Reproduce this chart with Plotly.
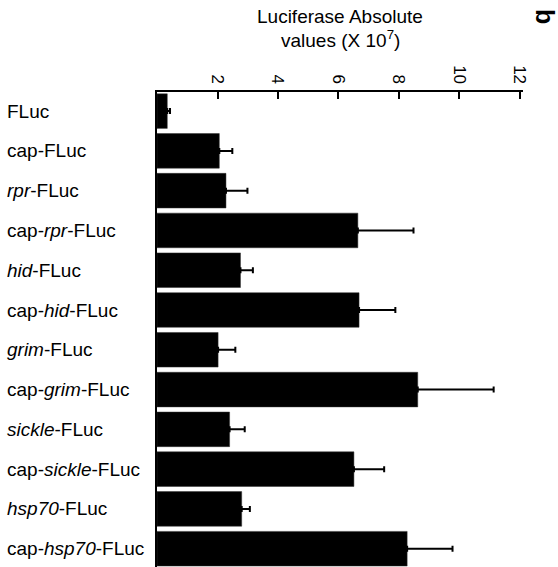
import plotly.graph_objects as go

constructs = ["FLuc", "cap-FLuc", "<i>rpr</i>-FLuc", "cap-<i>rpr</i>-FLuc",
              "<i>hid</i>-FLuc", "cap-<i>hid</i>-FLuc", "<i>grim</i>-FLuc",
              "cap-<i>grim</i>-FLuc", "<i>sickle</i>-FLuc", "cap-<i>sickle</i>-FLuc",
              "<i>hsp70</i>-FLuc", "cap-<i>hsp70</i>-FLuc"]
values = [0.34, 2.06, 2.28, 6.64, 2.76, 6.68, 2.02, 8.62, 2.40, 6.51, 2.80, 8.27]
errors = [0.09, 0.43, 0.71, 1.84, 0.41, 1.20, 0.57, 2.51, 0.50, 1.00, 0.27, 1.50]
tick_vals = [2, 4, 6, 8, 10, 12]

FONT = "Arial, 'Liberation Sans', Helvetica, sans-serif"
W, H = 558, 567
ML, MR, MT, MB = 157, 35, 92, 0
plot_w = W - ML - MR
plot_h = H - MT - MB

fig = go.Figure()
fig.add_trace(go.Bar(
    x=values, y=list(range(len(constructs))), orientation="h",
    width=0.87,
    marker=dict(color="black", line=dict(color="#333", width=0.5)),
    error_x=dict(type="data", array=errors, arrayminus=[0] * len(errors),
                 symmetric=False, color="black", thickness=2, width=3),
    showlegend=False,
))

annotations = []
for i, name in enumerate(constructs):
    annotations.append(dict(
        text=name, x=(5 - ML) / plot_w, xref="paper", y=i, yref="y",
        xanchor="left", yanchor="middle", showarrow=False,
        font=dict(family=FONT, size=19, color="black"),
    ))


def px_to_paper_y(py):
    return 1 + (MT - py) / plot_h


def px_to_paper_x(px):
    return (px - ML) / plot_w


annotations += [
    dict(text="Luciferase Absolute", x=0.5, xref="paper", y=px_to_paper_y(16), yref="paper",
         showarrow=False, xanchor="center", yanchor="middle",
         font=dict(family=FONT, size=19, color="black")),
    dict(text="values (X 10<sup>7</sup>)", x=0.5, xref="paper", y=px_to_paper_y(39), yref="paper",
         showarrow=False, xanchor="center", yanchor="middle",
         font=dict(family=FONT, size=19, color="black")),
    dict(text="<b>b</b>", x=px_to_paper_x(545), xref="paper", y=px_to_paper_y(16), yref="paper",
         showarrow=False, textangle=90, xanchor="center", yanchor="middle",
         font=dict(family=FONT, size=25, color="black")),
]

fig.update_layout(
    width=W, height=H,
    margin=dict(l=ML, r=MR, t=MT, b=MB, pad=0),
    paper_bgcolor="white", plot_bgcolor="white",
    annotations=annotations,
    xaxis=dict(
        side="top", range=[0, 12.1], tickvals=tick_vals, ticktext=[str(v) for v in tick_vals],
        showline=True, linecolor="black", linewidth=2,
        ticks="inside", ticklen=7, tickwidth=2, tickcolor="black",
        tickangle=90, tickfont=dict(family=FONT, size=17, color="black"),
        showgrid=False, zeroline=False, automargin=False,
    ),
    yaxis=dict(
        range=[11.46, -0.48], showticklabels=False, ticks="",
        showline=True, linecolor="black", linewidth=2,
        showgrid=False, zeroline=False, automargin=False,
    ),
)

fig.write_html("out.html")
